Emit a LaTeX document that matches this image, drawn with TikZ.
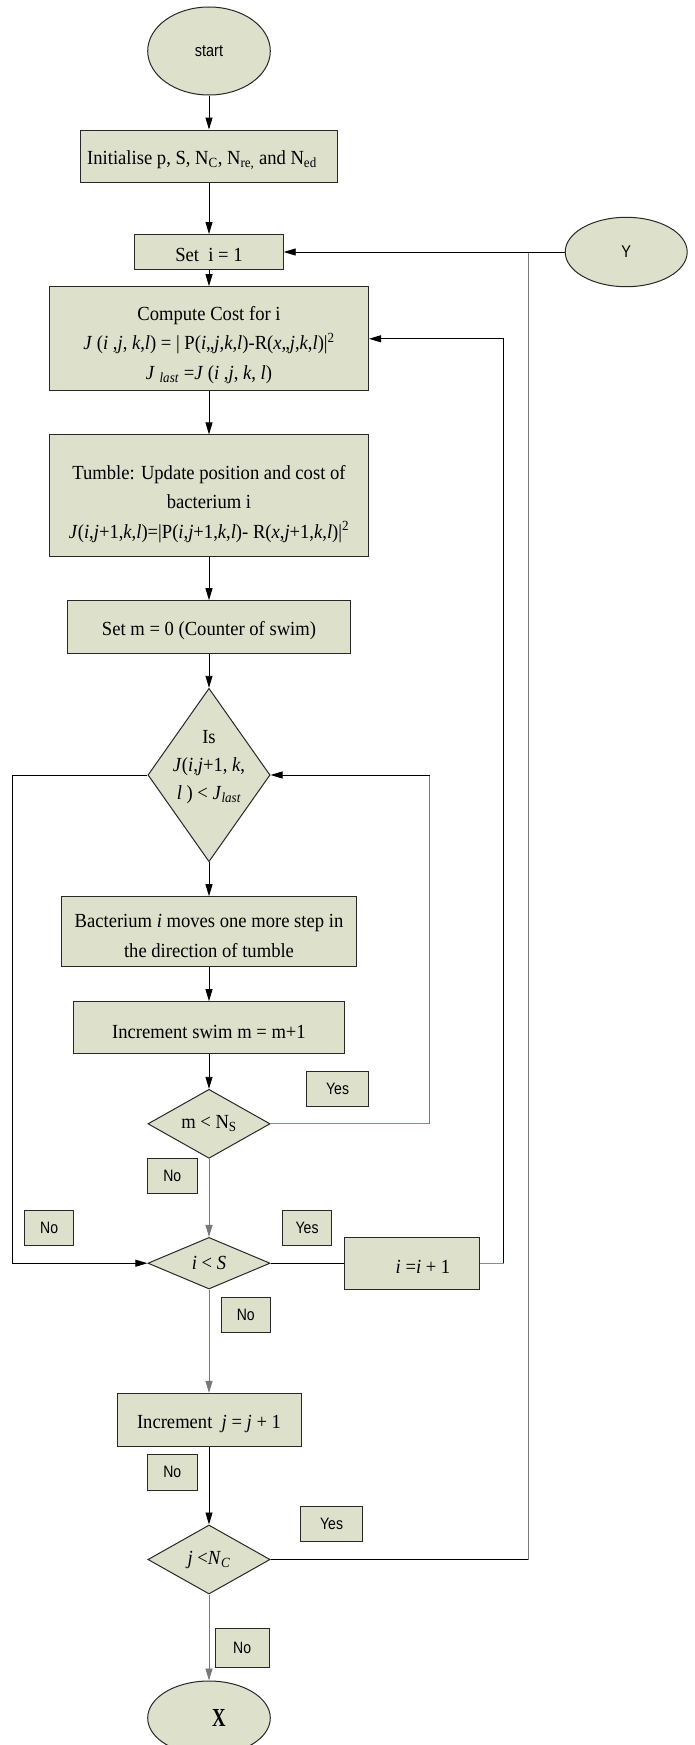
\documentclass[tikz,border=0pt]{standalone}
\usepackage{fontspec}
\setmainfont{Liberation Serif}[FakeStretch=0.93]
\newfontfamily\lbl{Liberation Sans}[FakeStretch=0.85]
\newfontfamily\xfnt{Liberation Serif}[FakeStretch=0.72]
\usetikzlibrary{shapes.geometric,arrows.meta}
\definecolor{boxfill}{RGB}{221,224,203}
\definecolor{edge}{RGB}{40,40,40}
\definecolor{lgrey}{RGB}{120,120,120}
\definecolor{lblue}{RGB}{100,145,210}
\newcommand\dropby[1]{\rule{0pt}{#1pt}}
\tikzset{
  base/.style={draw=edge, line width=1pt, fill=boxfill, inner sep=0pt, align=center},
  proc/.style={base, rectangle, font=\fontsize{20}{29.5}\selectfont},
  tag/.style={base, rectangle, minimum width=49.4pt, minimum height=35.3pt, font=\lbl\fontsize{16.5}{18}\selectfont},
  dia/.style={base, diamond},
  ell/.style={base, ellipse},
  dtext/.style={font=\fontsize{20}{28}\selectfont, align=center, inner sep=0pt},
  arr/.style={draw=black, line width=0.9pt, -{Triangle[length=12pt,width=7pt]}},
  ln/.style={draw=black, line width=0.9pt},
}
\begin{document}
\begin{tikzpicture}[x=1pt,y=-1pt]
\useasboundingbox (0,0) rectangle (694,1745);
\clip (0,0) rectangle (694,1745);
\fill[white] (0,0) rectangle (694,1745);

% main column
\node[ell, minimum width=122.6pt, minimum height=88pt, font=\lbl\fontsize{17}{20}\selectfont] (start) at (209,51) {start};
\node[proc, minimum width=256.4pt, minimum height=52.3pt] (init) at (209,156.2) {\dropby{21}Initialise p, S, N\textsubscript{C}, N\textsubscript{re,} and N\textsubscript{ed}\hspace*{14pt}};
\node[proc, minimum width=148.4pt, minimum height=35pt] (seti) at (209,252) {\dropby{19}Set\ \ i = 1};
\node[ell, minimum width=122pt, minimum height=69.4pt, font=\lbl\fontsize{17}{20}\selectfont] (Y) at (626.2,252) {Y};
\node[proc, minimum width=319pt, minimum height=104.3pt] (comp) at (209,338.8) {\dropby{26}Compute Cost for i\\ \textit{J} (\textit{i} ,\textit{j}, \textit{k},\textit{l}) = | P(\textit{i},,\textit{j},\textit{k},\textit{l})-R(\textit{x},,\textit{j},\textit{k},\textit{l})|\textsuperscript{2}\\ \textit{J} \textsubscript{\textit{last}} =\textit{J} (\textit{i} ,\textit{j}, \textit{k}, \textit{l})};
\node[proc, minimum width=319pt, minimum height=121.7pt] (tumb) at (209,495.8) {\dropby{30}Tumble: Update position and cost of\\ bacterium i\\ \textit{J}(\textit{i},\textit{j}+1,\textit{k},\textit{l})=|P(\textit{i},\textit{j}+1,\textit{k},\textit{l})- R(\textit{x},\textit{j}+1,\textit{k},\textit{l})|\textsuperscript{2}};
\node[proc, minimum width=282.6pt, minimum height=52.6pt] (setm) at (209,627) {\dropby{21}Set m = 0 (Counter of swim)};
\node[dia, minimum width=122.2pt, minimum height=173.4pt, label={[dtext, yshift=8pt]center:{Is\\ \textit{J}(\textit{i},\textit{j}+1, \textit{k},\\ \textit{l} ) < \textit{J}\textsubscript{\textit{last}}}}] (d1) at (209,775) {};
\node[proc, minimum width=294.7pt, minimum height=70pt] (bact) at (209,931.7) {\dropby{22}Bacterium \textit{i} moves one more step in\\ the direction of tumble};
\node[proc, minimum width=270.2pt, minimum height=52.3pt] (incm) at (209,1027.8) {\dropby{21}Increment swim m = m+1};
\node[tag, minimum width=61.7pt] (yes1) at (337.6,1088.7) {Yes};
\node[dia, minimum width=122.2pt, minimum height=69pt, label={[dtext]center:{m < N\textsubscript{S}}}] (d2) at (209,1123.8) {};
\node[tag] (no1) at (172.3,1175.8) {No};
\node[tag] (no2) at (49.1,1228.3) {No};
\node[tag, minimum width=48.9pt] (yes2) at (307.1,1228.3) {Yes};
\node[dia, minimum width=122.2pt, minimum height=51.6pt, label={[dtext]center:{\textit{i} < \textit{S}}}] (d3) at (209,1263.2) {};
\node[proc, minimum width=135pt, minimum height=52.3pt] (iinc) at (411.5,1263.2) {\dropby{21}\hspace*{23pt}\textit{i} =\textit{i} + 1};
\node[tag, minimum width=48.9pt] (no3) at (245.8,1315.3) {No};
\node[proc, minimum width=184pt, minimum height=52.7pt] (incj) at (209,1419.7) {\dropby{21}Increment\ \ \textit{j} = \textit{j} + 1};
\node[tag, minimum height=35.7pt] (no4) at (172.3,1472.2) {No};
\node[tag, minimum width=61.3pt] (yes3) at (331.6,1524.3) {Yes};
\node[dia, minimum width=122.2pt, minimum height=69pt, label={[dtext]center:{\textit{j} <\textit{N}\textsubscript{\textit{C}}}}] (d4) at (209,1559.5) {};
\node[tag, minimum width=54.2pt, minimum height=38.7pt] (no5) at (242.2,1648.3) {No};
\node[ell, minimum width=122.6pt, minimum height=74pt] (X) at (209,1718) {\hspace*{20pt}\xfnt\bfseries\fontsize{26}{28}\selectfont X};

% main flow
\draw[arr] (start) -- (init);
\draw[arr] (init) -- (seti);
\draw[arr] (seti) -- (comp);
\draw[arr] (comp) -- (tumb);
\draw[arr] (tumb) -- (setm);
\draw[arr] (setm) -- (d1);
\draw[arr] (d1) -- (bact);
\draw[arr] (bact) -- (incm);
\draw[arr] (incm) -- (d2);
\draw[arr, draw=lgrey] (d2) -- (d3);
\draw[arr, draw=lgrey] (d3) -- (incj);
\draw[arr] (incj) -- (d4);
\draw[arr, draw=lgrey] (d4) -- (X);

% loop: d1 No -> i<S
\coordinate (L1) at (12.4,775);
\coordinate (L2) at (12.4,1263.2);
\draw[arr] (d1.west) -- (L1) -- (L2) -- (d3.west);

% loop: m<Ns Yes -> d1
\coordinate (R1) at (429.8,1123.8);
\coordinate (R2) at (429.8,775);
\draw[ln, draw=lblue] (d2.east) -- (R1);
\draw[ln, draw=lgrey] (R1) -- (R2);
\draw[arr] (R2) -- (d1.east);

% loop: i<S Yes -> i=i+1 -> compute
\draw[ln] (d3.east) -- (iinc.west);
\coordinate (S1) at (503.6,1263.2);
\coordinate (S2) at (503.6,338.8);
\draw[ln, draw=lblue] (iinc.east) -- (S1);
\draw[ln] (S1) -- (S2);
\draw[arr] (S2) -- (comp.east);

% loop: j<Nc Yes -> Set i = 1, and Y
\coordinate (T1) at (528,1559.5);
\coordinate (T2) at (528,252);
\draw[ln] (d4.east) -- (T1);
\draw[ln, draw=lgrey] (T1) -- (T2);
\draw[arr] (Y.west) -- (seti.east);
\end{tikzpicture}
\end{document}
